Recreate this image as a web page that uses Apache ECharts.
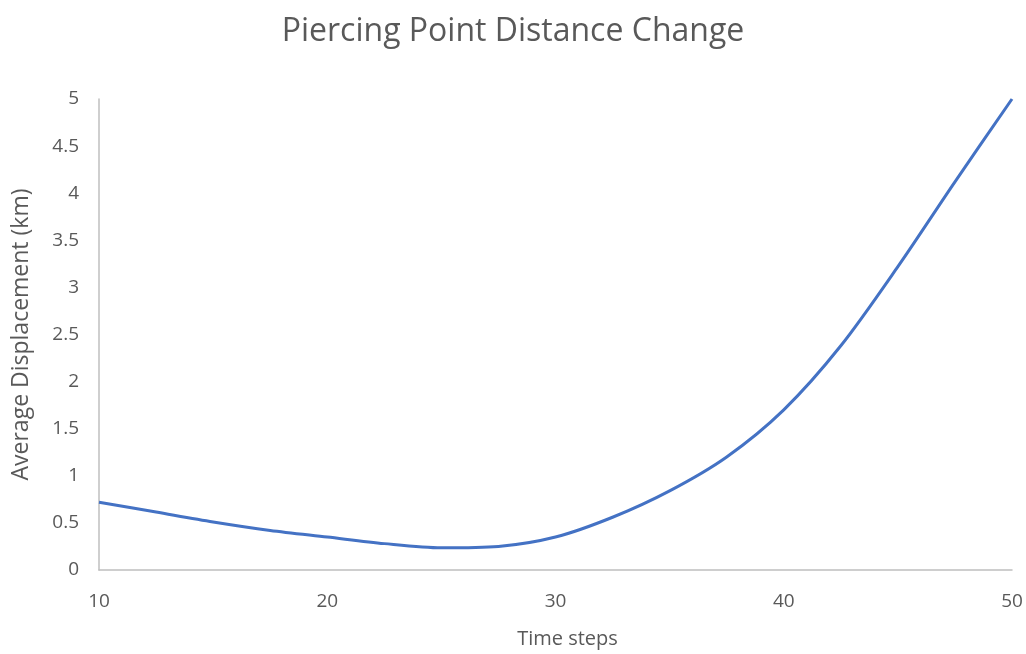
<!DOCTYPE html>
<html>
<head>
<meta charset="utf-8">
<script src="https://cdn.jsdelivr.net/npm/echarts@6/dist/echarts.min.js"></script>
<style>html,body{margin:0;padding:0;background:#fff;}#c{width:1026px;height:654px;}</style>
</head>
<body>
<div id="c"></div>
<script>
var timeSteps = [10, 12.5, 15, 17.5, 20, 22.5, 25, 27.5, 30, 32.5, 35, 37.5, 40, 42.5, 45, 47.5, 50];
var displacement = [0.72, 0.615, 0.51, 0.42, 0.35, 0.28, 0.235, 0.25, 0.35, 0.56, 0.84, 1.2, 1.7, 2.38, 3.22, 4.12, 5.0];
var titleText = 'Piercing Point Distance Change';
var xName = 'Time steps';
var yName = 'Average Displacement (km)';

var font = '"Open Sans", "Noto Sans", sans-serif';
var chart = echarts.init(document.getElementById('c'), null, {renderer: 'canvas'});
chart.setOption({
  animation: false,
  backgroundColor: '#ffffff',
  title: {
    text: titleText,
    left: 'center',
    top: 11,
    textStyle: {fontFamily: font, fontSize: 32, fontWeight: 'normal', color: '#595959'}
  },
  grid: {left: 99, right: 14, top: 99, bottom: 83},
  xAxis: {
    type: 'value',
    min: 10, max: 50, interval: 10,
    name: xName,
    nameLocation: 'middle',
    nameGap: 59,
    nameTextStyle: {fontFamily: font, fontSize: 20, color: '#595959', padding: [0, 0, 0, 24]},
    axisLine: {show: true, lineStyle: {color: '#bfbfbf', width: 1.5}},
    axisTick: {show: false},
    splitLine: {show: false},
    axisLabel: {fontFamily: font, fontSize: 19, color: '#595959', margin: 22}
  },
  yAxis: {
    type: 'value',
    min: 0, max: 5, interval: 0.5,
    name: yName,
    nameLocation: 'middle',
    nameGap: 66,
    nameTextStyle: {fontFamily: font, fontSize: 23, color: '#595959'},
    axisLine: {show: true, lineStyle: {color: '#bfbfbf', width: 1.5}},
    axisTick: {show: false},
    splitLine: {show: false},
    axisLabel: {fontFamily: font, fontSize: 19, color: '#595959', margin: 20}
  },
  series: [{
    type: 'line',
    data: timeSteps.map(function (t, i) { return [t, displacement[i]]; }),
    smooth: 0.3,
    showSymbol: false,
    lineStyle: {color: '#4472C4', width: 3}
  }]
});
</script>
</body>
</html>
